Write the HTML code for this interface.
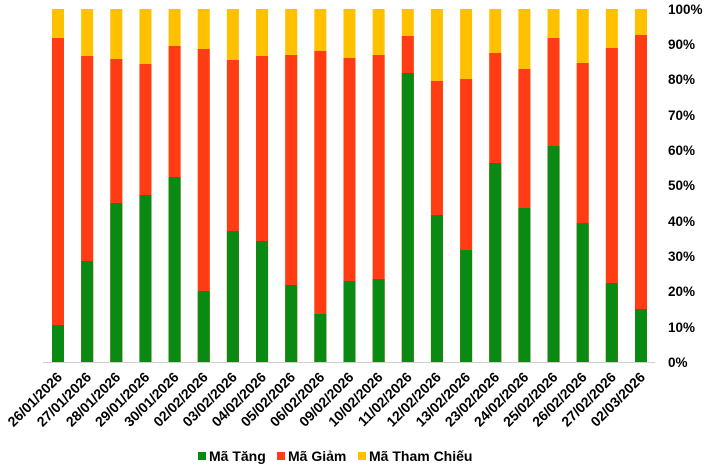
<!DOCTYPE html>
<html><head><meta charset="utf-8"><style>
html,body{margin:0;padding:0;background:#fff;}
svg{display:block;font-family:"Liberation Sans",Arial,sans-serif;font-weight:bold;}
</style></head><body>
<svg width="706" height="467" viewBox="0 0 706 467" xmlns="http://www.w3.org/2000/svg">
<line x1="43" y1="362.5" x2="655" y2="362.5" stroke="#d0d0d0" stroke-width="1"/>
<g fill="#ffc000">
<rect x="52" y="9" width="12" height="353"/><rect x="81.15" y="9" width="12" height="353"/><rect x="110.3" y="9" width="12" height="353"/><rect x="139.45" y="9" width="12" height="353"/><rect x="168.6" y="9" width="12" height="353"/><rect x="197.75" y="9" width="12" height="353"/><rect x="226.9" y="9" width="12" height="353"/><rect x="256.05" y="9" width="12" height="353"/><rect x="285.2" y="9" width="12" height="353"/><rect x="314.35" y="9" width="12" height="353"/><rect x="343.5" y="9" width="12" height="353"/><rect x="372.65" y="9" width="12" height="353"/><rect x="401.8" y="9" width="12" height="353"/><rect x="430.95" y="9" width="12" height="353"/><rect x="460.1" y="9" width="12" height="353"/><rect x="489.25" y="9" width="12" height="353"/><rect x="518.4" y="9" width="12" height="353"/><rect x="547.55" y="9" width="12" height="353"/><rect x="576.7" y="9" width="12" height="353"/><rect x="605.85" y="9" width="12" height="353"/><rect x="635" y="9" width="12" height="353"/>
</g>
<g fill="#ff3c14">
<rect x="52" y="38" width="12" height="324"/><rect x="81.15" y="56" width="12" height="306"/><rect x="110.3" y="59" width="12" height="303"/><rect x="139.45" y="64" width="12" height="298"/><rect x="168.6" y="46" width="12" height="316"/><rect x="197.75" y="49" width="12" height="313"/><rect x="226.9" y="60" width="12" height="302"/><rect x="256.05" y="56" width="12" height="306"/><rect x="285.2" y="55" width="12" height="307"/><rect x="314.35" y="51" width="12" height="311"/><rect x="343.5" y="58" width="12" height="304"/><rect x="372.65" y="55" width="12" height="307"/><rect x="401.8" y="36" width="12" height="326"/><rect x="430.95" y="81" width="12" height="281"/><rect x="460.1" y="79" width="12" height="283"/><rect x="489.25" y="53" width="12" height="309"/><rect x="518.4" y="69" width="12" height="293"/><rect x="547.55" y="38" width="12" height="324"/><rect x="576.7" y="63" width="12" height="299"/><rect x="605.85" y="48" width="12" height="314"/><rect x="635" y="35" width="12" height="327"/>
</g>
<g fill="#0b8a13">
<rect x="52" y="325" width="12" height="37"/><rect x="81.15" y="261" width="12" height="101"/><rect x="110.3" y="203" width="12" height="159"/><rect x="139.45" y="195" width="12" height="167"/><rect x="168.6" y="177" width="12" height="185"/><rect x="197.75" y="291" width="12" height="71"/><rect x="226.9" y="231" width="12" height="131"/><rect x="256.05" y="241" width="12" height="121"/><rect x="285.2" y="285" width="12" height="77"/><rect x="314.35" y="314" width="12" height="48"/><rect x="343.5" y="281" width="12" height="81"/><rect x="372.65" y="279" width="12" height="83"/><rect x="401.8" y="73" width="12" height="289"/><rect x="430.95" y="215" width="12" height="147"/><rect x="460.1" y="250" width="12" height="112"/><rect x="489.25" y="163" width="12" height="199"/><rect x="518.4" y="208" width="12" height="154"/><rect x="547.55" y="146" width="12" height="216"/><rect x="576.7" y="223" width="12" height="139"/><rect x="605.85" y="283" width="12" height="79"/><rect x="635" y="309" width="12" height="53"/>
</g>
<g font-size="13.5" fill="#000">
<text x="668" y="14">100%</text>
<text x="668" y="49">90%</text>
<text x="668" y="84">80%</text>
<text x="668" y="120">70%</text>
<text x="668" y="155">60%</text>
<text x="668" y="190">50%</text>
<text x="668" y="226">40%</text>
<text x="668" y="261">30%</text>
<text x="668" y="296">20%</text>
<text x="668" y="332">10%</text>
<text x="668" y="367">0%</text>
</g>
<g font-size="14" fill="#000" text-anchor="end">
<text transform="translate(63,378) rotate(-45)">26/01/2026</text>
<text transform="translate(92.15,378) rotate(-45)">27/01/2026</text>
<text transform="translate(121.3,378) rotate(-45)">28/01/2026</text>
<text transform="translate(150.45,378) rotate(-45)">29/01/2026</text>
<text transform="translate(179.6,378) rotate(-45)">30/01/2026</text>
<text transform="translate(208.75,378) rotate(-45)">02/02/2026</text>
<text transform="translate(237.9,378) rotate(-45)">03/02/2026</text>
<text transform="translate(267.05,378) rotate(-45)">04/02/2026</text>
<text transform="translate(296.2,378) rotate(-45)">05/02/2026</text>
<text transform="translate(325.35,378) rotate(-45)">06/02/2026</text>
<text transform="translate(354.5,378) rotate(-45)">09/02/2026</text>
<text transform="translate(383.65,378) rotate(-45)">10/02/2026</text>
<text transform="translate(412.8,378) rotate(-45)">11/02/2026</text>
<text transform="translate(441.95,378) rotate(-45)">12/02/2026</text>
<text transform="translate(471.1,378) rotate(-45)">13/02/2026</text>
<text transform="translate(500.25,378) rotate(-45)">23/02/2026</text>
<text transform="translate(529.4,378) rotate(-45)">24/02/2026</text>
<text transform="translate(558.55,378) rotate(-45)">25/02/2026</text>
<text transform="translate(587.7,378) rotate(-45)">26/02/2026</text>
<text transform="translate(616.85,378) rotate(-45)">27/02/2026</text>
<text transform="translate(646,378) rotate(-45)">02/03/2026</text>
</g>
<g font-size="14">
<rect x="198" y="452" width="8" height="8" fill="#0b8a13"/>
<text x="209" y="461">Mã Tăng</text>
<rect x="277" y="452" width="8" height="8" fill="#ff3c14"/>
<text x="288" y="461">Mã Giảm</text>
<rect x="358" y="452" width="8" height="8" fill="#ffc000"/>
<text x="369" y="461">Mã Tham Chiếu</text>
</g>
</svg>
</body></html>
